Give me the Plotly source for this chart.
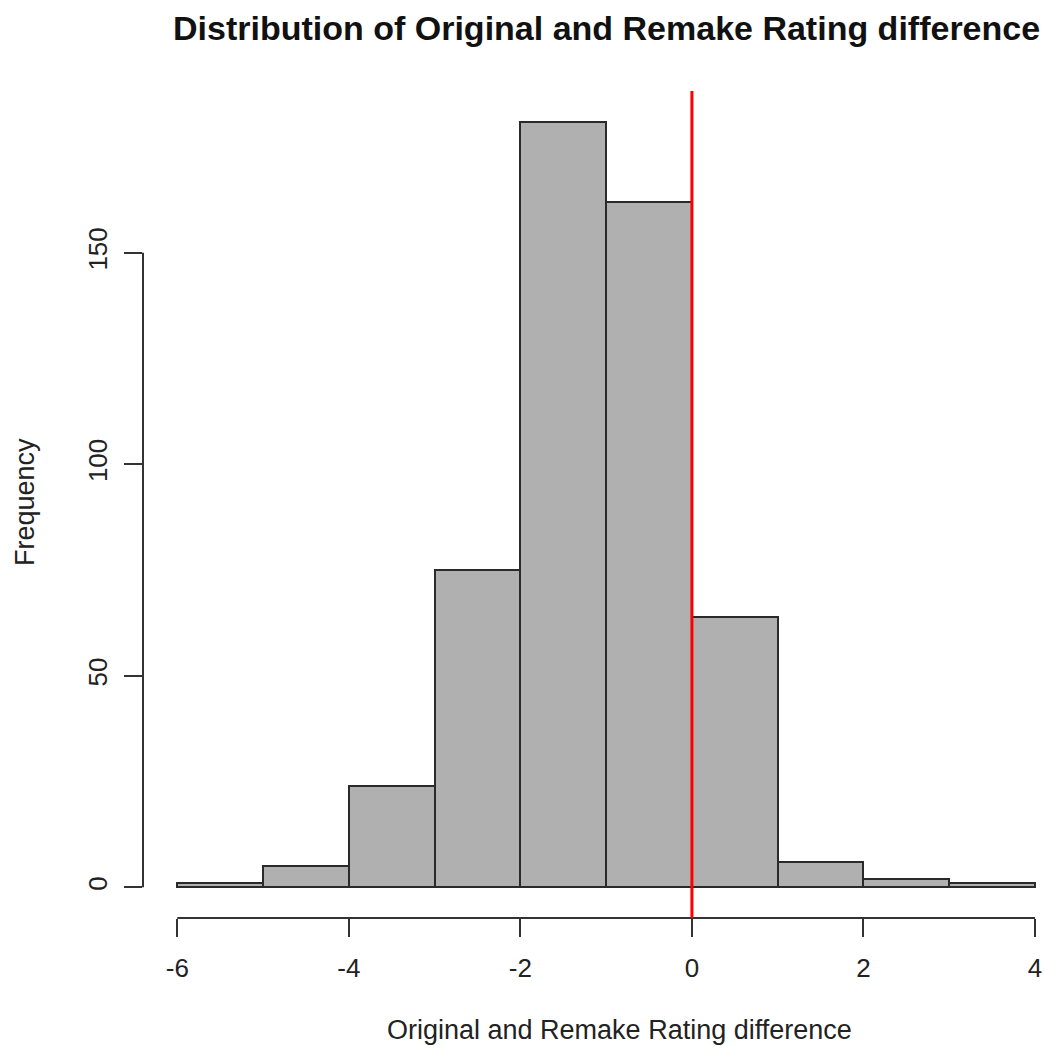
import plotly.graph_objects as go

# Data
bin_edges = [-6, -5, -4, -3, -2, -1, 0, 1, 2, 3, 4]
counts = [1, 5, 24, 75, 181, 162, 64, 6, 2, 1]
x_ticks = [-6, -4, -2, 0, 2, 4]
y_ticks = [0, 50, 100, 150]
ref_line_x = 0

title_text = "Distribution of Original and Remake Rating difference"
x_label = "Original and Remake Rating difference"
y_label = "Frequency"

centers = [(a + b) / 2 for a, b in zip(bin_edges[:-1], bin_edges[1:])]
widths = [b - a for a, b in zip(bin_edges[:-1], bin_edges[1:])]

FONT = "Liberation Sans, Arial, Helvetica, sans-serif"
AX = "#333333"

fig = go.Figure()
fig.add_trace(go.Bar(
    x=centers, y=counts, width=widths,
    marker=dict(color="#B0B0B0", line=dict(color="#2a2a2a", width=2)),
    hoverinfo="x+y",
))

ymax = max(counts)
pad_y = 0.04 * ymax
xr = bin_edges[-1] - bin_edges[0]

fig.update_layout(
    width=1044, height=1056,
    autosize=False,
    margin=dict(l=143, r=0, t=91, b=138),
    paper_bgcolor="white", plot_bgcolor="white",
    showlegend=False,
    bargap=0,
    font=dict(family=FONT, size=26, color="#222222"),
    xaxis=dict(
        range=[bin_edges[0] - 0.04 * xr, bin_edges[-1] + 0.105],
        tickvals=x_ticks, ticktext=[str(v) for v in x_ticks],
        ticks="outside", ticklen=18, tickwidth=2, tickcolor=AX,
        showline=False, showgrid=False, zeroline=False,
        ticklabelstandoff=9,
        tickfont=dict(family=FONT, size=26, color="#222222"),
        fixedrange=True,
    ),
    yaxis=dict(
        range=[-pad_y, ymax + pad_y],
        tickvals=y_ticks, ticktext=[str(v) for v in y_ticks],
        ticks="outside", ticklen=18, tickwidth=2, tickcolor=AX,
        showline=False, showgrid=False, zeroline=False,
        tickangle=-90,
        ticklabelstandoff=7,
        tickfont=dict(family=FONT, size=26, color="#222222"),
        fixedrange=True,
    ),
    shapes=[
        # x axis line (from first to last tick)
        dict(type="line", xref="x", yref="paper",
             x0=min(x_ticks), x1=max(x_ticks), y0=0, y1=0,
             line=dict(color=AX, width=2)),
        # y axis line (from first to last tick)
        dict(type="line", xref="paper", yref="y",
             x0=0, x1=0, y0=min(y_ticks), y1=max(y_ticks),
             line=dict(color=AX, width=2)),
        # red reference line
        dict(type="line", xref="x", yref="paper",
             x0=ref_line_x, x1=ref_line_x, y0=0, y1=1,
             line=dict(color="red", width=3), layer="above"),
    ],
    annotations=[
        dict(text="<b>" + title_text + "</b>", xref="paper", yref="paper",
             x=0.514, y=1.076, xanchor="center", yanchor="middle",
             showarrow=False, font=dict(family=FONT, size=34, color="#111111")),
        dict(text=x_label, xref="paper", yref="paper",
             x=0.529, y=-0.135, xanchor="center", yanchor="middle",
             showarrow=False, font=dict(family=FONT, size=27, color="#222222")),
        dict(text=y_label, xref="paper", yref="paper",
             x=-0.131, y=0.503, xanchor="center", yanchor="middle",
             textangle=-90,
             showarrow=False, font=dict(family=FONT, size=27, color="#222222")),
    ],
)

fig.write_html("out.html", config={"displayModeBar": False},
               post_script="document.body.style.margin='0';")
